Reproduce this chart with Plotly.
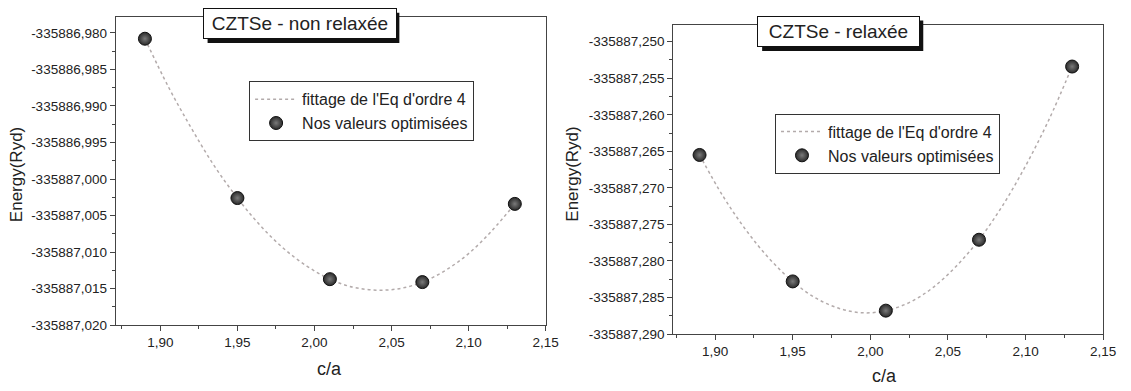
import plotly.graph_objects as go

# ---------------- data ----------------
ca_points = [1.89, 1.95, 2.01, 2.07, 2.13]
e_nonrelax = [-335886.9808, -335887.0026, -335887.0137, -335887.0141, -335887.0034]
e_relax = [-335887.2655, -335887.2828, -335887.2868, -335887.2771, -335887.2534]

fit_ca = [1.89, 1.905, 1.92, 1.935, 1.95, 1.965, 1.98, 1.995, 2.01,
          2.025, 2.04, 2.055, 2.07, 2.085, 2.10, 2.115, 2.13]
fit_nonrelax = [-335886.9808, -335886.9873, -335886.9930, -335886.9982, -335887.0026,
                -335887.0064, -335887.0095, -335887.0119, -335887.0137, -335887.0148,
                -335887.0152, -335887.0150, -335887.0141, -335887.0125, -335887.0102,
                -335887.0071, -335887.0034]
fit_relax = [-335887.2655, -335887.2711, -335887.2758, -335887.2797, -335887.2828,
             -335887.2851, -335887.2865, -335887.2871, -335887.2868, -335887.2857,
             -335887.2837, -335887.2808, -335887.2771, -335887.2725, -335887.2670,
             -335887.2607, -335887.2534]

ytick_vals_left = [-335887.020, -335887.015, -335887.010, -335887.005, -335887.000,
                   -335886.995, -335886.990, -335886.985, -335886.980]
ytick_text_left = ["-335887,020", "-335887,015", "-335887,010", "-335887,005", "-335887,000",
                   "-335886,995", "-335886,990", "-335886,985", "-335886,980"]
ytick_vals_right = [-335887.290, -335887.285, -335887.280, -335887.275, -335887.270,
                    -335887.265, -335887.260, -335887.255, -335887.250]
ytick_text_right = ["-335887,290", "-335887,285", "-335887,280", "-335887,275", "-335887,270",
                    "-335887,265", "-335887,260", "-335887,255", "-335887,250"]
xtick_vals = [1.90, 1.95, 2.00, 2.05, 2.10, 2.15]
xtick_text = ["1,90", "1,95", "2,00", "2,05", "2,10", "2,15"]

titles = ["CZTSe - non relaxée", "CZTSe - relaxée"]
fit_name = "fittage de l'Eq d'ordre 4"
pts_name = "Nos valeurs optimisées"
x_title = "c/a"
y_title = "Energy(Ryd)"

# ---------------- figure ----------------
W, H = 1131, 391
FONT = "Arial, 'Liberation Sans', sans-serif"
TXT = "#222222"
FIT_COL = "#b3abab"
MK_COL = "#2a2a2a"
AX_COL = "#444444"


def px(x):
    return x / W


def py(y):
    return 1 - y / H


fig = go.Figure()

marker_style = dict(size=13, color=MK_COL,
                    gradient=dict(type="radial", color="#7a7a7a"),
                    line=dict(color="#111111", width=1))
line_style = dict(color=FIT_COL, width=1.5, dash="dot", shape="spline")

# left panel
fig.add_trace(go.Scatter(x=fit_ca, y=fit_nonrelax, mode="lines", name=fit_name,
                         line=line_style, xaxis="x", yaxis="y", legend="legend"))
fig.add_trace(go.Scatter(x=ca_points, y=e_nonrelax, mode="markers", name=pts_name,
                         marker=marker_style, xaxis="x", yaxis="y", legend="legend"))
# right panel
fig.add_trace(go.Scatter(x=fit_ca, y=fit_relax, mode="lines", name=fit_name,
                         line=line_style, xaxis="x2", yaxis="y2", legend="legend2"))
fig.add_trace(go.Scatter(x=ca_points, y=e_relax, mode="markers", name=pts_name,
                         marker=marker_style, xaxis="x2", yaxis="y2", legend="legend2"))

common_ax = dict(showgrid=False, zeroline=False, showline=True, linecolor=AX_COL,
                 linewidth=1, mirror=True, ticks="outside", ticklen=5, tickwidth=1,
                 tickcolor=AX_COL, tickfont=dict(family=FONT, size=13.5, color=TXT))

xax = dict(common_ax, tickmode="array", tickvals=xtick_vals, ticktext=xtick_text,
           minor=dict(tickmode="linear", tick0=1.875, dtick=0.05, ticklen=3,
                      ticks="outside", tickcolor=AX_COL))


def yax(vals, text, rng, dom):
    return dict(common_ax, tickmode="array", tickvals=vals, ticktext=text,
                range=rng, domain=dom,
                minor=dict(tickmode="linear", tick0=vals[0] + 0.0025, dtick=0.005,
                           ticklen=3, ticks="outside", tickcolor=AX_COL))


legend_common = dict(xanchor="left", yanchor="top", bgcolor="white",
                     bordercolor="#333333", borderwidth=1, itemwidth=42,
                     font=dict(family=FONT, size=16, color=TXT), tracegroupgap=0)

fig.update_layout(
    width=W, height=H, autosize=False,
    margin=dict(l=0, r=0, t=0, b=0),
    paper_bgcolor="white", plot_bgcolor="white",
    font=dict(family=FONT, color=TXT),
    xaxis=dict(xax, domain=[px(117), px(552)], range=[1.871, 2.15], anchor="y"),
    yaxis=dict(yax(ytick_vals_left, ytick_text_left, [-335887.020, -335886.97778],
                   [py(332), py(17)]), anchor="x"),
    xaxis2=dict(xax, domain=[px(681), px(1116)], range=[1.873, 2.15], anchor="y2"),
    yaxis2=dict(yax(ytick_vals_right, ytick_text_right, [-335887.290, -335887.24778],
                    [py(341), py(26)]), anchor="x2"),
    legend=dict(legend_common, x=px(252), y=py(83)),
    legend2=dict(legend_common, x=px(784), y=py(116)),
    showlegend=True,
)

# title boxes with drop shadow
boxes = [(303, 24.5, 184, titles[0]), (848.5, 32.5, 153, titles[1])]
for cx, cy, w, t in boxes:
    tw, th = w + 10, 31
    fig.add_shape(type="rect", xref="paper", yref="paper",
                  x0=px(cx - tw / 2 + 4), x1=px(cx + tw / 2 + 4),
                  y0=py(cy + th / 2 + 4), y1=py(cy - th / 2 + 4),
                  fillcolor="#111111", line=dict(width=0), layer="above")
    fig.add_annotation(xref="paper", yref="paper", x=px(cx), y=py(cy),
                       xanchor="center", yanchor="middle", text=t, showarrow=False,
                       width=w, height=21, borderpad=4, borderwidth=1,
                       bordercolor="#111111", bgcolor="white",
                       font=dict(family=FONT, size=19, color=TXT))

# axis titles
for x, y in [(333, 377), (895, 384)]:
    fig.add_annotation(xref="paper", yref="paper", x=px(x), y=py(y), text=x_title,
                       showarrow=False, xanchor="center", yanchor="middle",
                       font=dict(family=FONT, size=18, color=TXT))
for x, y in [(17, 178), (579, 178)]:
    fig.add_annotation(xref="paper", yref="paper", x=px(x), y=py(y), text=y_title,
                       showarrow=False, xanchor="center", yanchor="middle", textangle=-90,
                       font=dict(family=FONT, size=17, color=TXT))

fig.write_html("out.html")
